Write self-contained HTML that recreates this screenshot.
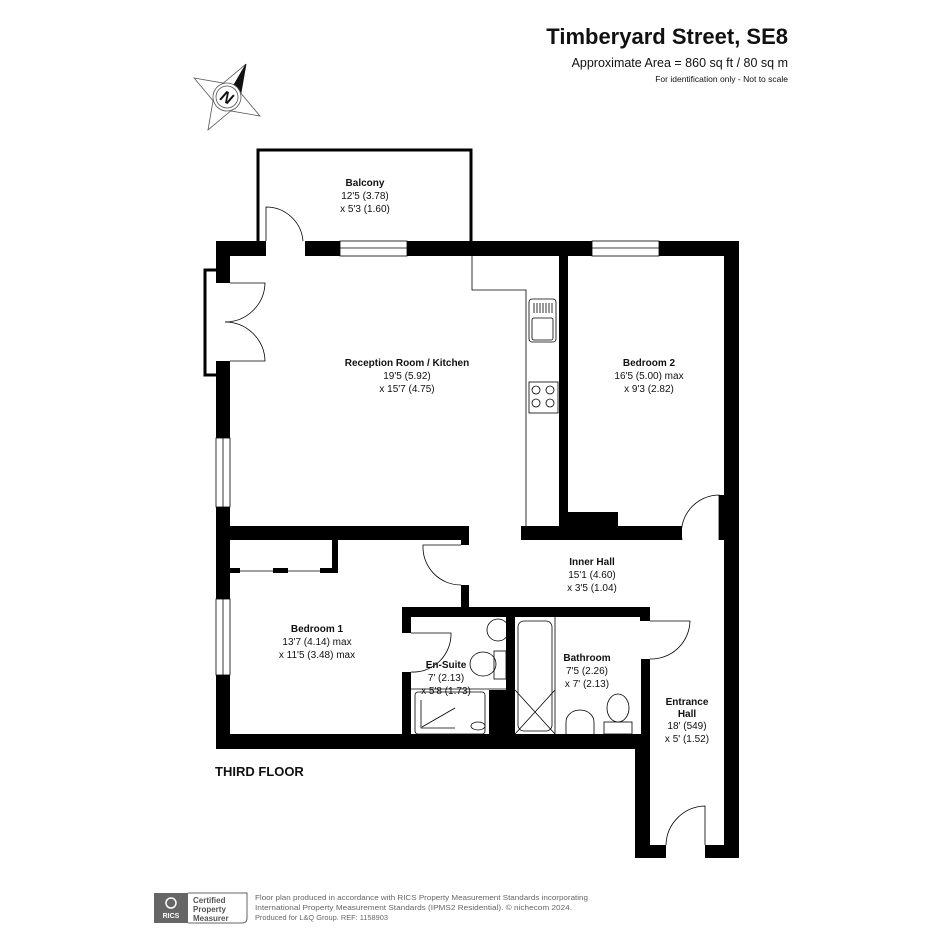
<!DOCTYPE html>
<html><head><meta charset="utf-8"><style>
html,body{margin:0;padding:0;background:#fff;}
svg{display:block;font-family:"Liberation Sans",Arial,sans-serif;}
.t{font-size:10px;text-anchor:middle;fill:#111;}
.b{font-weight:bold;}
</style></head><body>
<svg width="945" height="945" viewBox="0 0 945 945" xmlns="http://www.w3.org/2000/svg">
<rect width="945" height="945" fill="#fff"/>
<!-- header -->
<text x="788" y="44" font-size="22" font-weight="bold" text-anchor="end" fill="#111">Timberyard Street, SE8</text>
<text x="788" y="67" font-size="12.5" text-anchor="end" fill="#111">Approximate Area = 860 sq ft / 80 sq m</text>
<text x="788" y="82" font-size="8.5" text-anchor="end" fill="#111">For identification only - Not to scale</text>
<!-- compass -->
<g transform="translate(227,97) rotate(30)" stroke="#555" stroke-width="0.8" fill="#fff">
<polygon points="0,-38 -11,-8 0,0"/>
<polygon points="0,-38 11,-8 0,0" fill="#111" stroke="#111"/>
<polygon points="-38,0 -8,-11 0,0 -8,11"/>
<polygon points="38,0 8,-11 0,0 8,11"/>
<polygon points="0,38 -11,8 0,0 11,8"/>
<circle r="14" fill="#fff"/>
<circle r="11" fill="none"/>
<text x="0" y="6" font-size="16" font-weight="bold" font-style="italic" text-anchor="middle" fill="#111" stroke="none">N</text>
</g>
<!-- balcony outline -->
<path d="M258 241 V150 H471 V241" fill="none" stroke="#000" stroke-width="3"/>
<g fill="#000">
<rect x="216" y="241" width="50" height="15"/>
<rect x="305" y="241" width="35" height="15"/>
<rect x="407" y="241" width="185" height="15"/>
<rect x="659" y="241" width="80" height="15"/>
<rect x="216" y="241" width="14" height="42"/>
<rect x="216" y="361" width="14" height="77"/>
<rect x="216" y="507" width="14" height="92"/>
<rect x="216" y="675" width="14" height="74"/>
<rect x="724" y="241" width="15" height="617"/>
<rect x="216" y="526" width="253" height="14"/>
<rect x="461" y="526" width="8" height="19"/>
<rect x="559" y="256" width="9" height="271"/>
<rect x="559" y="512" width="59" height="28"/>
<rect x="521" y="526" width="161" height="14"/>
<rect x="719" y="495" width="5" height="45"/>
<rect x="332" y="540" width="6" height="33"/>
<rect x="230" y="568" width="10" height="5"/>
<rect x="273" y="568" width="15" height="5"/>
<rect x="320" y="568" width="18" height="5"/>
<rect x="461" y="585" width="8" height="23"/>
<rect x="402" y="607" width="248" height="10"/>
<rect x="640" y="607" width="10" height="14"/>
<rect x="402" y="607" width="9" height="26"/>
<rect x="402" y="672" width="9" height="62"/>
<rect x="506" y="617" width="9" height="117"/>
<rect x="489" y="690" width="17" height="44"/>
<rect x="641" y="659" width="9" height="75"/>
<rect x="216" y="734" width="434" height="15"/>
<rect x="635" y="734" width="15" height="124"/>
<rect x="635" y="845" width="31" height="13"/>
<rect x="705" y="845" width="34" height="13"/>
</g>
<g fill="none" stroke="#000" stroke-width="0.8">
<rect x="340" y="241" width="67" height="15"/><line x1="340" y1="248" x2="407" y2="248"/>
<rect x="592" y="241" width="67" height="15"/><line x1="592" y1="248" x2="659" y2="248"/>
<rect x="216" y="438" width="14" height="69"/><line x1="223" y1="438" x2="223" y2="507"/>
<rect x="216" y="599" width="14" height="76"/><line x1="223" y1="599" x2="223" y2="675"/>
<path d="M216 270 H205 V375 H216" stroke-width="3"/>
<path d="M230 283 H265 A40 40 0 0 1 225 322" />
<path d="M230 361 H265 A40 40 0 0 0 225 322" />
<path d="M266 241 V207 A37 37 0 0 1 303 241"/>
<path d="M472 256 V290 H526 V527"/>
<rect x="529" y="299" width="27" height="43" rx="3"/>
<rect x="532" y="318" width="21" height="22" rx="2"/>
<path d="M534 303v10M537 303v10M540 303v10M543 303v10M546 303v10M549 303v10M552 303v10"/>
<rect x="529" y="382" width="29" height="31"/>
<circle cx="536" cy="390" r="4"/><circle cx="550" cy="390" r="4"/>
<circle cx="536" cy="403" r="4"/><circle cx="550" cy="403" r="4"/>
<path d="M682 540 A38 38 0 0 1 719 495 V540"/>
<path d="M240 571 H273 M288 571 H320"/>
<path d="M461 545 H423 A38 38 0 0 0 461 585"/>
<path d="M411 633 H451 A38 38 0 0 1 411 672"/>
<circle cx="498" cy="630" r="11"/>
<ellipse cx="483" cy="664" rx="13" ry="12"/>
<rect x="494" y="651" width="12" height="28"/>
<line x1="411" y1="689" x2="506" y2="689"/>
<rect x="415" y="692" width="70" height="42" rx="3"/>
<path d="M421 700 V728 H455 M422 727 L455 708"/>
<ellipse cx="478" cy="726" rx="7" ry="4"/>
<rect x="518" y="621" width="34" height="110" rx="6"/>
<line x1="555" y1="617" x2="555" y2="734"/>
<path d="M515 690 L555 734 M555 690 L515 734"/>
<path d="M566 734 V722 A14 12 0 0 1 594 722 V734"/>
<ellipse cx="618" cy="708" rx="11" ry="14"/>
<rect x="604" y="722" width="28" height="12"/>
<path d="M650 621 H690 A39 39 0 0 1 650 659"/>
<path d="M666 845 A40 40 0 0 1 705 806 V845"/>
</g>
<text class="t b" x="365" y="186">Balcony</text>
<text class="t" x="365" y="199">12'5 (3.78)</text>
<text class="t" x="365" y="212">x 5'3 (1.60)</text>
<text class="t b" x="407" y="366">Reception Room / Kitchen</text>
<text class="t" x="407" y="379">19'5 (5.92)</text>
<text class="t" x="407" y="392">x 15'7 (4.75)</text>
<text class="t b" x="649" y="366">Bedroom 2</text>
<text class="t" x="649" y="379">16'5 (5.00) max</text>
<text class="t" x="649" y="392">x 9'3 (2.82)</text>
<text class="t b" x="592" y="565">Inner Hall</text>
<text class="t" x="592" y="578">15'1 (4.60)</text>
<text class="t" x="592" y="591">x 3'5 (1.04)</text>
<text class="t b" x="317" y="632">Bedroom 1</text>
<text class="t" x="317" y="645">13'7 (4.14) max</text>
<text class="t" x="317" y="658">x 11'5 (3.48) max</text>
<text class="t b" x="446" y="668">En-Suite</text>
<text class="t" x="446" y="681">7' (2.13)</text>
<text class="t" x="446" y="694">x 5'8 (1.73)</text>
<text class="t b" x="587" y="661">Bathroom</text>
<text class="t" x="587" y="674">7'5 (2.26)</text>
<text class="t" x="587" y="687">x 7' (2.13)</text>
<text class="t b" x="687" y="705">Entrance</text>
<text class="t b" x="687" y="717">Hall</text>
<text class="t" x="687" y="729">18' (549)</text>
<text class="t" x="687" y="742">x 5' (1.52)</text>
<text x="215" y="776" font-size="13" font-weight="bold" fill="#111">THIRD FLOOR</text>
<rect x="154" y="893" width="34" height="30" fill="#666"/>
<text x="171" y="918" font-size="7" font-weight="bold" fill="#fff" text-anchor="middle">RICS</text>
<circle cx="171" cy="903" r="5" fill="none" stroke="#fff" stroke-width="1.5"/>
<path d="M188 893 H247 V918 Q247 923 242 923 H188" fill="none" stroke="#666" stroke-width="1"/>
<text x="193" y="903" font-size="8" font-weight="bold" fill="#555">Certified</text>
<text x="193" y="912" font-size="8" font-weight="bold" fill="#555">Property</text>
<text x="193" y="921" font-size="8" font-weight="bold" fill="#555">Measurer</text>
<text x="255" y="900" font-size="7.4" fill="#666" textLength="333" lengthAdjust="spacingAndGlyphs">Floor plan produced in accordance with RICS Property Measurement Standards incorporating</text>
<text x="255" y="910" font-size="7.4" fill="#666" textLength="317" lengthAdjust="spacingAndGlyphs">International Property Measurement Standards (IPMS2 Residential).   © nichecom 2024.</text>
<text x="255" y="920" font-size="7.4" fill="#666">Produced for L&amp;Q Group.   REF:  1158903</text>
</svg>
</body></html>
